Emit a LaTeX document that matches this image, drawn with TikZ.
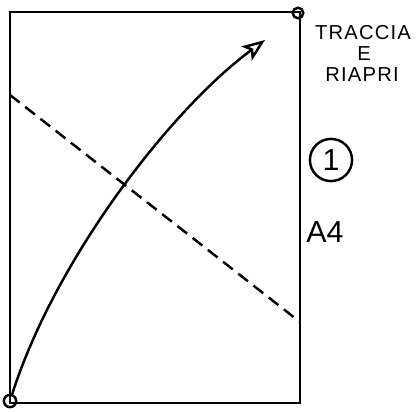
\documentclass[tikz,border=0pt]{standalone}
\usepackage{fontspec}
\setmainfont{Liberation Sans}
\usetikzlibrary{arrows.meta}
\tikzset{
    pen/.style={line width=1.4pt},
    note/.style={font=\fontsize{11.5}{13}\selectfont\addfontfeatures{LetterSpace=6}}
}
\begin{document}
\begin{tikzpicture}[x=0.02cm,y=-0.02cm]
        \useasboundingbox (0,0) rectangle (419,412);
        \draw[pen] (10,12) rectangle (300,403);
        \node[circle,draw,pen,inner sep=0pt,minimum size=7pt] (start) at (10,401) {};
        \node[circle,draw,pen,inner sep=0pt,minimum size=6pt] (corner) at (298,13) {};
        \coordinate (tip) at (265,40);
        \coordinate (dashA) at (10,95);
        \coordinate (dashB) at (300,322);
        \draw[pen,dash pattern=on 7pt off 4pt] (dashA) -- (dashB);
        \draw[pen,-{Stealth[open,length=13pt,width=10pt,inset=3pt]}]
            (start) .. controls (55,260) and (170,110) .. (tip);
        \node[note] (traccia) at (363,33) {TRACCIA};
        \node[note] (e) at (364,54) {E};
        \node[note] (riapri) at (362,75) {RIAPRI};
        \node[circle,draw,pen,minimum size=24pt,inner sep=0pt] (one) at (331,160) {\LARGE 1};
        \node (a4) at (325,232) {\LARGE A4};
    \end{tikzpicture}
\end{document}
